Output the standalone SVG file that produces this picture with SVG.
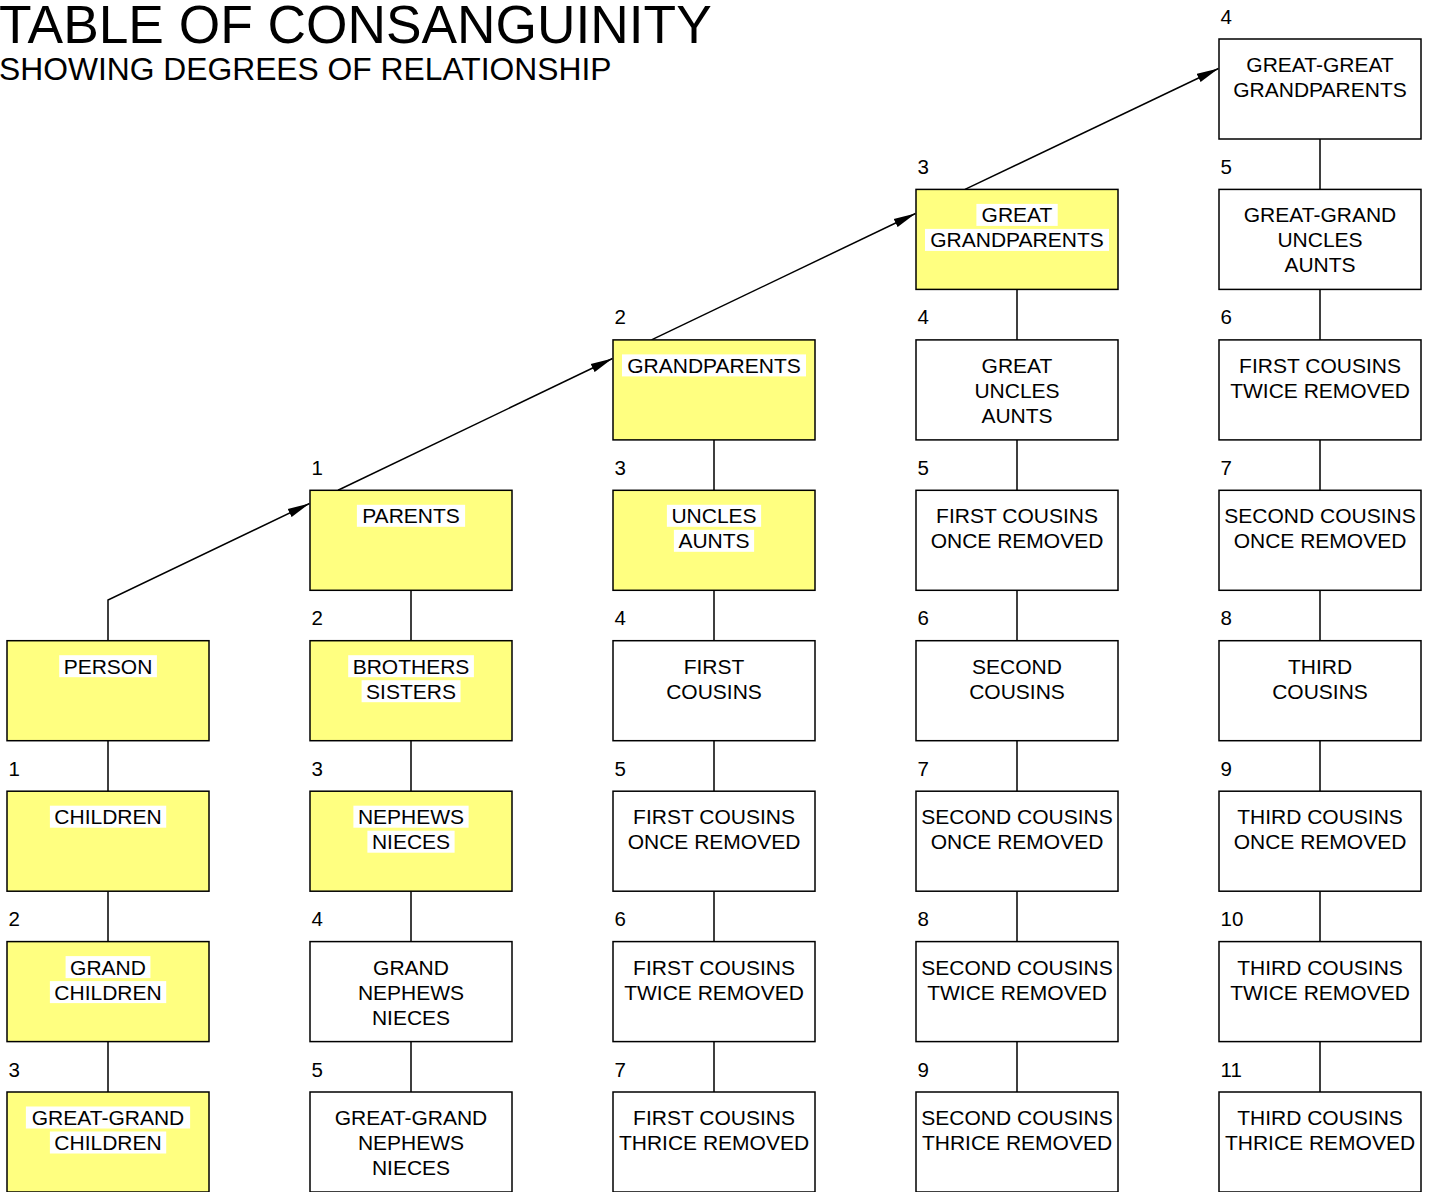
<svg xmlns="http://www.w3.org/2000/svg" width="1434" height="1192" viewBox="0 0 1434 1192">
<style>
.box{stroke:#000;stroke-width:1.5}
.y{fill:#FFFF80}
.w{fill:#FFFFFF}
.bg{fill:#FFFFFF}
.t{font-family:"Liberation Sans",Arial,sans-serif;font-size:21px;fill:#000;text-anchor:middle}
.n{font-family:"Liberation Sans",Arial,sans-serif;font-size:20.5px;fill:#000;text-anchor:start}
.c{fill:none;stroke:#000;stroke-width:1.5}
</style>
<defs>
<marker id="arr" markerWidth="22" markerHeight="10" refX="22" refY="5" orient="auto" markerUnits="userSpaceOnUse">
<path d="M0,0.5 L22,5 L0,9.5 z" fill="#000"/>
</marker>
</defs>
<rect x="0" y="0" width="1434" height="1192" fill="#FFFFFF"/>
<g id="title">
<text x="-1" y="43" font-family="Liberation Sans, Arial, sans-serif" font-size="53.3">TABLE OF CONSANGUINITY</text>
<text x="-1" y="80" font-family="Liberation Sans, Arial, sans-serif" font-size="31.8">SHOWING DEGREES OF RELATIONSHIP</text>
</g>
<g id="connectors">
<path class="c" d="M108,640.7 V600 L309.5,503.5" marker-end="url(#arr)"/>
<path class="c" d="M338,490.3 L612.5,358.5" marker-end="url(#arr)"/>
<path class="c" d="M651.5,339.9 L915.5,213.5" marker-end="url(#arr)"/>
<path class="c" d="M965,189.4 L1218.5,68.5" marker-end="url(#arr)"/>
<path class="c" d="M108,740.7 V791.2 M108,891.2 V941.6 M108,1041.6 V1092"/>
<path class="c" d="M411,590.3 V640.7 M411,740.7 V791.2 M411,891.2 V941.6 M411,1041.6 V1092"/>
<path class="c" d="M714,439.9 V490.3 M714,590.3 V640.7 M714,740.7 V791.2 M714,891.2 V941.6 M714,1041.6 V1092"/>
<path class="c" d="M1017,289.4 V339.9 M1017,439.9 V490.3 M1017,590.3 V640.7 M1017,740.7 V791.2 M1017,891.2 V941.6 M1017,1041.6 V1092"/>
<path class="c" d="M1320,139 V189.4 M1320,289.4 V339.9 M1320,439.9 V490.3 M1320,590.3 V640.7 M1320,740.7 V791.2 M1320,891.2 V941.6 M1320,1041.6 V1092"/>
</g>
<g id="n-person">
<rect class="box y" x="7" y="640.7" width="202" height="100"/>
<rect class="bg" x="59.2" y="655.2" width="97.7" height="22"/>
<text class="t" x="108" y="673.7">PERSON</text>
</g>
<g id="n-children">
<text class="n" x="8.5" y="775.7">1</text>
<rect class="box y" x="7" y="791.2" width="202" height="100"/>
<rect class="bg" x="49.9" y="805.7" width="116.3" height="22"/>
<text class="t" x="108" y="824.2">CHILDREN</text>
</g>
<g id="n-grandchildren">
<text class="n" x="8.5" y="926.1">2</text>
<rect class="box y" x="7" y="941.6" width="202" height="100"/>
<rect class="bg" x="65.6" y="956.1" width="84.8" height="22"/>
<rect class="bg" x="49.9" y="981.1" width="116.3" height="22"/>
<text class="t" x="108" y="974.6">GRAND</text>
<text class="t" x="108" y="999.6">CHILDREN</text>
</g>
<g id="n-ggchildren">
<text class="n" x="8.5" y="1076.5">3</text>
<rect class="box y" x="7" y="1092" width="202" height="100"/>
<rect class="bg" x="25.9" y="1106.5" width="164.2" height="22"/>
<rect class="bg" x="49.9" y="1131.5" width="116.3" height="22"/>
<text class="t" x="108" y="1125">GREAT-GRAND</text>
<text class="t" x="108" y="1150">CHILDREN</text>
</g>
<g id="n-parents">
<text class="n" x="311.5" y="474.8">1</text>
<rect class="box y" x="310" y="490.3" width="202" height="100"/>
<rect class="bg" x="356.9" y="504.8" width="108.2" height="22"/>
<text class="t" x="411" y="523.3">PARENTS</text>
</g>
<g id="n-siblings">
<text class="n" x="311.5" y="625.2">2</text>
<rect class="box y" x="310" y="640.7" width="202" height="100"/>
<rect class="bg" x="348.2" y="655.2" width="125.7" height="22"/>
<rect class="bg" x="361.6" y="680.2" width="98.9" height="22"/>
<text class="t" x="411" y="673.7">BROTHERS</text>
<text class="t" x="411" y="698.7">SISTERS</text>
</g>
<g id="n-nephews">
<text class="n" x="311.5" y="775.7">3</text>
<rect class="box y" x="310" y="791.2" width="202" height="100"/>
<rect class="bg" x="353.4" y="805.7" width="115.2" height="22"/>
<rect class="bg" x="367.4" y="830.7" width="87.2" height="22"/>
<text class="t" x="411" y="824.2">NEPHEWS</text>
<text class="t" x="411" y="849.2">NIECES</text>
</g>
<g id="n-grandnephews">
<text class="n" x="311.5" y="926.1">4</text>
<rect class="box w" x="310" y="941.6" width="202" height="100"/>
<text class="t" x="411" y="974.6">GRAND</text>
<text class="t" x="411" y="999.6">NEPHEWS</text>
<text class="t" x="411" y="1024.6">NIECES</text>
</g>
<g id="n-ggnephews">
<text class="n" x="311.5" y="1076.5">5</text>
<rect class="box w" x="310" y="1092" width="202" height="100"/>
<text class="t" x="411" y="1125">GREAT-GRAND</text>
<text class="t" x="411" y="1150">NEPHEWS</text>
<text class="t" x="411" y="1175">NIECES</text>
</g>
<g id="n-grandparents">
<text class="n" x="614.5" y="324.4">2</text>
<rect class="box y" x="613" y="339.9" width="202" height="100"/>
<rect class="bg" x="622" y="354.4" width="184" height="22"/>
<text class="t" x="714" y="372.9">GRANDPARENTS</text>
</g>
<g id="n-uncles">
<text class="n" x="614.5" y="474.8">3</text>
<rect class="box y" x="613" y="490.3" width="202" height="100"/>
<rect class="bg" x="666.9" y="504.8" width="94.2" height="22"/>
<rect class="bg" x="673.9" y="529.8" width="80.2" height="22"/>
<text class="t" x="714" y="523.3">UNCLES</text>
<text class="t" x="714" y="548.3">AUNTS</text>
</g>
<g id="n-first-cousins">
<text class="n" x="614.5" y="625.2">4</text>
<rect class="box w" x="613" y="640.7" width="202" height="100"/>
<text class="t" x="714" y="673.7">FIRST</text>
<text class="t" x="714" y="698.7">COUSINS</text>
</g>
<g id="n-fc-1r-a">
<text class="n" x="614.5" y="775.7">5</text>
<rect class="box w" x="613" y="791.2" width="202" height="100"/>
<text class="t" x="714" y="824.2">FIRST COUSINS</text>
<text class="t" x="714" y="849.2">ONCE REMOVED</text>
</g>
<g id="n-fc-2r-a">
<text class="n" x="614.5" y="926.1">6</text>
<rect class="box w" x="613" y="941.6" width="202" height="100"/>
<text class="t" x="714" y="974.6">FIRST COUSINS</text>
<text class="t" x="714" y="999.6">TWICE REMOVED</text>
</g>
<g id="n-fc-3r">
<text class="n" x="614.5" y="1076.5">7</text>
<rect class="box w" x="613" y="1092" width="202" height="100"/>
<text class="t" x="714" y="1125">FIRST COUSINS</text>
<text class="t" x="714" y="1150">THRICE REMOVED</text>
</g>
<g id="n-ggparents">
<text class="n" x="917.5" y="173.9">3</text>
<rect class="box y" x="916" y="189.4" width="202" height="100"/>
<rect class="bg" x="976.4" y="203.9" width="81.3" height="22"/>
<rect class="bg" x="925" y="228.9" width="184" height="22"/>
<text class="t" x="1017" y="222.4">GREAT</text>
<text class="t" x="1017" y="247.4">GRANDPARENTS</text>
</g>
<g id="n-great-uncles">
<text class="n" x="917.5" y="324.4">4</text>
<rect class="box w" x="916" y="339.9" width="202" height="100"/>
<text class="t" x="1017" y="372.9">GREAT</text>
<text class="t" x="1017" y="397.9">UNCLES</text>
<text class="t" x="1017" y="422.9">AUNTS</text>
</g>
<g id="n-fc-1r-b">
<text class="n" x="917.5" y="474.8">5</text>
<rect class="box w" x="916" y="490.3" width="202" height="100"/>
<text class="t" x="1017" y="523.3">FIRST COUSINS</text>
<text class="t" x="1017" y="548.3">ONCE REMOVED</text>
</g>
<g id="n-second-cousins">
<text class="n" x="917.5" y="625.2">6</text>
<rect class="box w" x="916" y="640.7" width="202" height="100"/>
<text class="t" x="1017" y="673.7">SECOND</text>
<text class="t" x="1017" y="698.7">COUSINS</text>
</g>
<g id="n-sc-1r-a">
<text class="n" x="917.5" y="775.7">7</text>
<rect class="box w" x="916" y="791.2" width="202" height="100"/>
<text class="t" x="1017" y="824.2">SECOND COUSINS</text>
<text class="t" x="1017" y="849.2">ONCE REMOVED</text>
</g>
<g id="n-sc-2r">
<text class="n" x="917.5" y="926.1">8</text>
<rect class="box w" x="916" y="941.6" width="202" height="100"/>
<text class="t" x="1017" y="974.6">SECOND COUSINS</text>
<text class="t" x="1017" y="999.6">TWICE REMOVED</text>
</g>
<g id="n-sc-3r">
<text class="n" x="917.5" y="1076.5">9</text>
<rect class="box w" x="916" y="1092" width="202" height="100"/>
<text class="t" x="1017" y="1125">SECOND COUSINS</text>
<text class="t" x="1017" y="1150">THRICE REMOVED</text>
</g>
<g id="n-gggparents">
<text class="n" x="1220.5" y="23.5">4</text>
<rect class="box w" x="1219" y="39" width="202" height="100"/>
<text class="t" x="1320" y="72">GREAT-GREAT</text>
<text class="t" x="1320" y="97">GRANDPARENTS</text>
</g>
<g id="n-gg-uncles">
<text class="n" x="1220.5" y="173.9">5</text>
<rect class="box w" x="1219" y="189.4" width="202" height="100"/>
<text class="t" x="1320" y="222.4">GREAT-GRAND</text>
<text class="t" x="1320" y="247.4">UNCLES</text>
<text class="t" x="1320" y="272.4">AUNTS</text>
</g>
<g id="n-fc-2r-b">
<text class="n" x="1220.5" y="324.4">6</text>
<rect class="box w" x="1219" y="339.9" width="202" height="100"/>
<text class="t" x="1320" y="372.9">FIRST COUSINS</text>
<text class="t" x="1320" y="397.9">TWICE REMOVED</text>
</g>
<g id="n-sc-1r-b">
<text class="n" x="1220.5" y="474.8">7</text>
<rect class="box w" x="1219" y="490.3" width="202" height="100"/>
<text class="t" x="1320" y="523.3">SECOND COUSINS</text>
<text class="t" x="1320" y="548.3">ONCE REMOVED</text>
</g>
<g id="n-third-cousins">
<text class="n" x="1220.5" y="625.2">8</text>
<rect class="box w" x="1219" y="640.7" width="202" height="100"/>
<text class="t" x="1320" y="673.7">THIRD</text>
<text class="t" x="1320" y="698.7">COUSINS</text>
</g>
<g id="n-tc-1r">
<text class="n" x="1220.5" y="775.7">9</text>
<rect class="box w" x="1219" y="791.2" width="202" height="100"/>
<text class="t" x="1320" y="824.2">THIRD COUSINS</text>
<text class="t" x="1320" y="849.2">ONCE REMOVED</text>
</g>
<g id="n-tc-2r">
<text class="n" x="1220.5" y="926.1">10</text>
<rect class="box w" x="1219" y="941.6" width="202" height="100"/>
<text class="t" x="1320" y="974.6">THIRD COUSINS</text>
<text class="t" x="1320" y="999.6">TWICE REMOVED</text>
</g>
<g id="n-tc-3r">
<text class="n" x="1220.5" y="1076.5">11</text>
<rect class="box w" x="1219" y="1092" width="202" height="100"/>
<text class="t" x="1320" y="1125">THIRD COUSINS</text>
<text class="t" x="1320" y="1150">THRICE REMOVED</text>
</g>
</svg>
